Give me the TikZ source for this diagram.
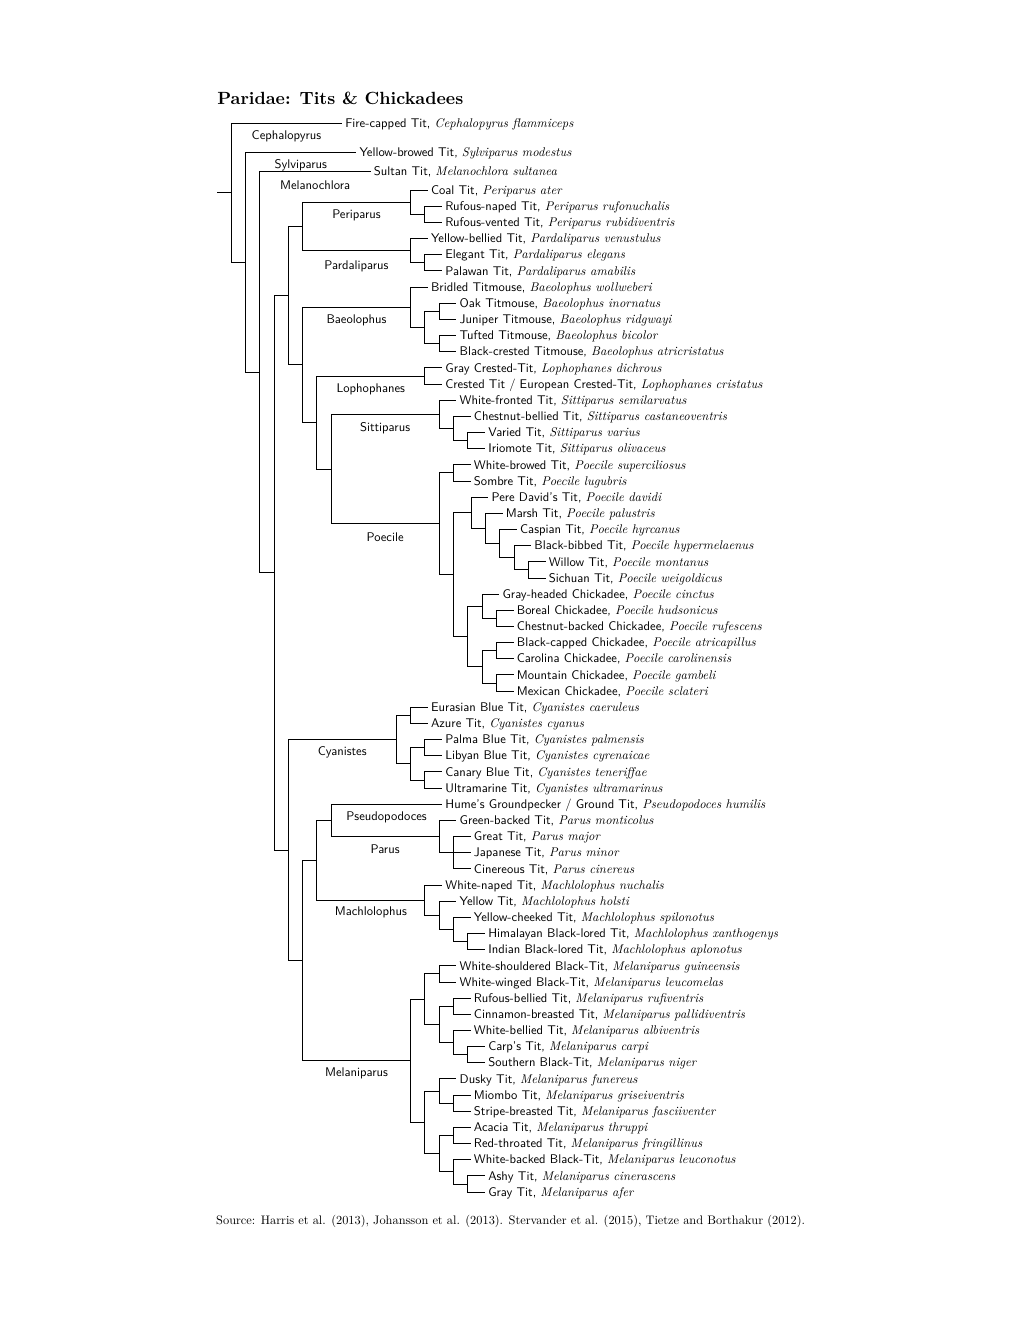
\documentclass[tikz,border=0pt]{standalone}
\usepackage{tikz}
\newcommand{\species}[1]{{\rmfamily\itshape #1}}

\begin{document}
\begin{tikzpicture}[x=0.6pt, y=-0.6pt,
  every node/.style={font=\sffamily},
  leaf/.style={scale=0.755, anchor=west, inner sep=2.4pt, text height=1.6ex, text depth=0pt},
  genus/.style={scale=0.755, inner sep=0pt},
  branch/.style={line width=0.4pt}]
  \useasboundingbox (0,0) rectangle (1020,1320);
  \node[anchor=base west, inner sep=0pt, font=\fontsize{10.6}{13}\selectfont\rmfamily\bfseries] (title) at (217,104) {Paridae: Tits \& Chickadees};
  % backbone
  \coordinate (root) at (217,192.47);
  \coordinate (A) at (231,192.47);   \coordinate (B) at (245.3,261.94);
  \coordinate (C) at (259.6,371.87); \coordinate (D) at (273.9,572.74);
  \coordinate (E) at (288.2,295.57); \coordinate (F) at (288.2,849.91);
  \coordinate (P1) at (302.5,226.36); \coordinate (P2) at (302.5,364.78);
  \coordinate (Q) at (316.8,422.40);  \coordinate (Q2) at (331.1,468.95);
  \coordinate (Gn) at (302.5,960.38); \coordinate (H) at (316.8,860.14);
  \coordinate (I) at (331.1,820.24);
  % genus nodes
  \coordinate (Pe) at (410.5,202.12); \coordinate (Pe1) at (424.8,214.24);
  \coordinate (Pa) at (410.5,250.60); \coordinate (Pa1) at (424.8,262.72);
  \coordinate (Ba) at (410.5,307.16); \coordinate (Ba1) at (424.8,327.36);
  \coordinate (Ba1a) at (439.1,311.20); \coordinate (Ba1b) at (439.1,343.52);
  \coordinate (Lo) at (424.8,375.84);
  \coordinate (Si) at (439.1,414.22); \coordinate (Si1) at (453.4,428.36); \coordinate (Si2) at (467.7,440.48);
  \coordinate (Po) at (439.1,523.68); \coordinate (Po1) at (453.4,472.80); \coordinate (Po2) at (453.4,574.56);
  \coordinate (Po2a) at (471.0,512.70); \coordinate (Po2a1) at (485.3,528.35);
  \coordinate (Po2a2) at (499.6,543.50); \coordinate (Po2a3) at (513.9,557.64);
  \coordinate (Po2a4) at (528.2,569.76);
  \coordinate (Po2b) at (467.7,636.42); \coordinate (Po2b1) at (482.0,606.12); \coordinate (Po2b1a) at (496.3,618.24);
  \coordinate (Po2b2) at (482.0,666.72); \coordinate (Po2b2a) at (496.3,650.56); \coordinate (Po2b2b) at (496.3,682.88);
  \coordinate (Cy) at (396.2,739.44); \coordinate (Cy1) at (410.5,715.20); \coordinate (Cy2) at (410.5,763.68);
  \coordinate (Cy2a) at (424.8,747.52); \coordinate (Cy2b) at (424.8,779.84);
  \coordinate (Parus) at (439.1,836.40); \coordinate (Parus1) at (453.4,852.56);
  \coordinate (Ma) at (424.8,900.03); \coordinate (Ma1) at (439.1,915.18);
  \coordinate (Ma2) at (453.4,929.32); \coordinate (Ma3) at (467.7,941.44);
  \coordinate (Me) at (410.5,1060.62);
  \coordinate (M1) at (424.8,999.01); \coordinate (M1a) at (439.1,973.76); \coordinate (M1b) at (439.1,1024.26);
  \coordinate (M1b1) at (453.4,1006.08); \coordinate (M1b2) at (453.4,1042.44); \coordinate (M1b2a) at (467.7,1054.56);
  \coordinate (M2) at (424.8,1122.23); \coordinate (M2a) at (439.1,1090.92); \coordinate (M2a1) at (453.4,1103.04);
  \coordinate (M2b) at (439.1,1153.54); \coordinate (M2b1) at (453.4,1135.36); \coordinate (M2b2) at (453.4,1171.72);
  \coordinate (M2b2a) at (467.7,1183.84);
  % leaves
  \node[leaf] (fire) at (342.0,123) {Fire-capped Tit, \species{Cephalopyrus flammiceps}};
  \node[leaf] (ybrow) at (356.3,152) {Yellow-browed Tit, \species{Sylviparus modestus}};
  \node[leaf] (sultan) at (370.6,171) {Sultan Tit, \species{Melanochlora sultanea}};
  \node[leaf] (coal) at (427.8,190.00) {Coal Tit, \species{Periparus ater}};
  \node[leaf] (rnaped) at (442.1,206.16) {Rufous-naped Tit, \species{Periparus rufonuchalis}};
  \node[leaf] (rvented) at (442.1,222.32) {Rufous-vented Tit, \species{Periparus rubidiventris}};
  \node[leaf] (ybellied) at (427.8,238.48) {Yellow-bellied Tit, \species{Pardaliparus venustulus}};
  \node[leaf] (elegant) at (442.1,254.64) {Elegant Tit, \species{Pardaliparus elegans}};
  \node[leaf] (palawan) at (442.1,270.80) {Palawan Tit, \species{Pardaliparus amabilis}};
  \node[leaf] (bridled) at (427.8,286.96) {Bridled Titmouse, \species{Baeolophus wollweberi}};
  \node[leaf] (oak) at (456.4,303.12) {Oak Titmouse, \species{Baeolophus inornatus}};
  \node[leaf] (juniper) at (456.4,319.28) {Juniper Titmouse, \species{Baeolophus ridgwayi}};
  \node[leaf] (tufted) at (456.4,335.44) {Tufted Titmouse, \species{Baeolophus bicolor}};
  \node[leaf] (bcrested) at (456.4,351.60) {Black-crested Titmouse, \species{Baeolophus atricristatus}};
  \node[leaf] (gcrested) at (442.1,367.76) {Gray Crested-Tit, \species{Lophophanes dichrous}};
  \node[leaf] (crested) at (442.1,383.92) {Crested Tit / European Crested-Tit, \species{Lophophanes cristatus}};
  \node[leaf] (wfronted) at (456.4,400.08) {White-fronted Tit, \species{Sittiparus semilarvatus}};
  \node[leaf] (cbellied) at (470.7,416.24) {Chestnut-bellied Tit, \species{Sittiparus castaneoventris}};
  \node[leaf] (varied) at (485.0,432.40) {Varied Tit, \species{Sittiparus varius}};
  \node[leaf] (iriomote) at (485.0,448.56) {Iriomote Tit, \species{Sittiparus olivaceus}};
  \node[leaf] (wbrowed) at (470.7,464.72) {White-browed Tit, \species{Poecile superciliosus}};
  \node[leaf] (sombre) at (470.7,480.88) {Sombre Tit, \species{Poecile lugubris}};
  \node[leaf] (pdavid) at (488.3,497.04) {Pere David's Tit, \species{Poecile davidi}};
  \node[leaf] (marsh) at (502.6,513.20) {Marsh Tit, \species{Poecile palustris}};
  \node[leaf] (caspian) at (516.9,529.36) {Caspian Tit, \species{Poecile hyrcanus}};
  \node[leaf] (bbibbed) at (531.2,545.52) {Black-bibbed Tit, \species{Poecile hypermelaenus}};
  \node[leaf] (willow) at (545.5,561.68) {Willow Tit, \species{Poecile montanus}};
  \node[leaf] (sichuan) at (545.5,577.84) {Sichuan Tit, \species{Poecile weigoldicus}};
  \node[leaf] (gheaded) at (499.3,594.00) {Gray-headed Chickadee, \species{Poecile cinctus}};
  \node[leaf] (boreal) at (513.6,610.16) {Boreal Chickadee, \species{Poecile hudsonicus}};
  \node[leaf] (cbacked) at (513.6,626.32) {Chestnut-backed Chickadee, \species{Poecile rufescens}};
  \node[leaf] (bcapped) at (513.6,642.48) {Black-capped Chickadee, \species{Poecile atricapillus}};
  \node[leaf] (carolina) at (513.6,658.64) {Carolina Chickadee, \species{Poecile carolinensis}};
  \node[leaf] (mountain) at (513.6,674.80) {Mountain Chickadee, \species{Poecile gambeli}};
  \node[leaf] (mexican) at (513.6,690.96) {Mexican Chickadee, \species{Poecile sclateri}};
  \node[leaf] (eurasian) at (427.8,707.12) {Eurasian Blue Tit, \species{Cyanistes caeruleus}};
  \node[leaf] (azure) at (427.8,723.28) {Azure Tit, \species{Cyanistes cyanus}};
  \node[leaf] (palma) at (442.1,739.44) {Palma Blue Tit, \species{Cyanistes palmensis}};
  \node[leaf] (libyan) at (442.1,755.60) {Libyan Blue Tit, \species{Cyanistes cyrenaicae}};
  \node[leaf] (canary) at (442.1,771.76) {Canary Blue Tit, \species{Cyanistes teneriffae}};
  \node[leaf] (ultramarine) at (442.1,787.92) {Ultramarine Tit, \species{Cyanistes ultramarinus}};
  \node[leaf] (humes) at (442.1,804.08) {Hume's Groundpecker / Ground Tit, \species{Pseudopodoces humilis}};
  \node[leaf] (gbacked) at (456.4,820.24) {Green-backed Tit, \species{Parus monticolus}};
  \node[leaf] (great) at (470.7,836.40) {Great Tit, \species{Parus major}};
  \node[leaf] (japanese) at (470.7,852.56) {Japanese Tit, \species{Parus minor}};
  \node[leaf] (cinereous) at (470.7,868.72) {Cinereous Tit, \species{Parus cinereus}};
  \node[leaf] (wnaped) at (442.1,884.88) {White-naped Tit, \species{Machlolophus nuchalis}};
  \node[leaf] (yellow) at (456.4,901.04) {Yellow Tit, \species{Machlolophus holsti}};
  \node[leaf] (ycheeked) at (470.7,917.20) {Yellow-cheeked Tit, \species{Machlolophus spilonotus}};
  \node[leaf] (himalayan) at (485.0,933.36) {Himalayan Black-lored Tit, \species{Machlolophus xanthogenys}};
  \node[leaf] (indian) at (485.0,949.52) {Indian Black-lored Tit, \species{Machlolophus aplonotus}};
  \node[leaf] (wshouldered) at (456.4,965.68) {White-shouldered Black-Tit, \species{Melaniparus guineensis}};
  \node[leaf] (wwinged) at (456.4,981.84) {White-winged Black-Tit, \species{Melaniparus leucomelas}};
  \node[leaf] (rbellied) at (470.7,998.00) {Rufous-bellied Tit, \species{Melaniparus rufiventris}};
  \node[leaf] (cinnamon) at (470.7,1014.16) {Cinnamon-breasted Tit, \species{Melaniparus pallidiventris}};
  \node[leaf] (wbellied) at (470.7,1030.32) {White-bellied Tit, \species{Melaniparus albiventris}};
  \node[leaf] (carps) at (485.0,1046.48) {Carp's Tit, \species{Melaniparus carpi}};
  \node[leaf] (southern) at (485.0,1062.64) {Southern Black-Tit, \species{Melaniparus niger}};
  \node[leaf] (dusky) at (456.4,1078.80) {Dusky Tit, \species{Melaniparus funereus}};
  \node[leaf] (miombo) at (470.7,1094.96) {Miombo Tit, \species{Melaniparus griseiventris}};
  \node[leaf] (stripe) at (470.7,1111.12) {Stripe-breasted Tit, \species{Melaniparus fasciiventer}};
  \node[leaf] (acacia) at (470.7,1127.28) {Acacia Tit, \species{Melaniparus thruppi}};
  \node[leaf] (rthroated) at (470.7,1143.44) {Red-throated Tit, \species{Melaniparus fringillinus}};
  \node[leaf] (wbacked) at (470.7,1159.60) {White-backed Black-Tit, \species{Melaniparus leuconotus}};
  \node[leaf] (ashy) at (485.0,1175.76) {Ashy Tit, \species{Melaniparus cinerascens}};
  \node[leaf] (gray) at (485.0,1191.92) {Gray Tit, \species{Melaniparus afer}};
  % genus labels
  \node[genus] (lCeph) at (286.5,136) {Cephalopyrus};
  \node[genus] (lSylv) at (300.8,165) {Sylviparus};
  \node[genus] (lMela) at (315.1,185) {Melanochlora};
  \node[genus] (lPeri) at (356.5,215.5) {Periparus};
  \node[genus] (lPard) at (356.5,266) {Pardaliparus};
  \node[genus] (lBaeo) at (356.5,320) {Baeolophus};
  \node[genus] (lLoph) at (370.8,389) {Lophophanes};
  \node[genus] (lSitt) at (385.1,428.5) {Sittiparus};
  \node[genus] (lPoec) at (385.1,537) {Poecile};
  \node[genus] (lCyan) at (342.2,752) {Cyanistes};
  \node[genus] (lPseu) at (386.6,817) {Pseudopodoces};
  \node[genus] (lParu) at (385.1,849) {Parus};
  \node[genus] (lMach) at (370.8,912.5) {Machlolophus};
  \node[genus] (lMeln) at (356.5,1073) {Melaniparus};
  % branches
  \draw[branch] (root) -- (A);
  \draw[branch] (A) |- (fire.west) (A) |- (B);
  \draw[branch] (B) |- (ybrow.west) (B) |- (C);
  \draw[branch] (C) |- (sultan.west) (C) |- (D);
  \draw[branch] (D) |- (E) (D) |- (F);
  \draw[branch] (E) |- (P1) (E) |- (P2);
  \draw[branch] (P1) |- (Pe) (P1) |- (Pa);
  \draw[branch] (Pe) |- (coal.west) (Pe) |- (Pe1);
  \draw[branch] (Pe1) |- (rnaped.west) (Pe1) |- (rvented.west);
  \draw[branch] (Pa) |- (ybellied.west) (Pa) |- (Pa1);
  \draw[branch] (Pa1) |- (elegant.west) (Pa1) |- (palawan.west);
  \draw[branch] (P2) |- (Ba) (P2) |- (Q);
  \draw[branch] (Ba) |- (bridled.west) (Ba) |- (Ba1);
  \draw[branch] (Ba1) |- (Ba1a) (Ba1) |- (Ba1b);
  \draw[branch] (Ba1a) |- (oak.west) (Ba1a) |- (juniper.west);
  \draw[branch] (Ba1b) |- (tufted.west) (Ba1b) |- (bcrested.west);
  \draw[branch] (Q) |- (Lo) (Q) |- (Q2);
  \draw[branch] (Lo) |- (gcrested.west) (Lo) |- (crested.west);
  \draw[branch] (Q2) |- (Si) (Q2) |- (Po);
  \draw[branch] (Si) |- (wfronted.west) (Si) |- (Si1);
  \draw[branch] (Si1) |- (cbellied.west) (Si1) |- (Si2);
  \draw[branch] (Si2) |- (varied.west) (Si2) |- (iriomote.west);
  \draw[branch] (Po) |- (Po1) (Po) |- (Po2);
  \draw[branch] (Po1) |- (wbrowed.west) (Po1) |- (sombre.west);
  \draw[branch] (Po2) |- (Po2a) (Po2) |- (Po2b);
  \draw[branch] (Po2a) |- (pdavid.west) (Po2a) |- (Po2a1);
  \draw[branch] (Po2a1) |- (marsh.west) (Po2a1) |- (Po2a2);
  \draw[branch] (Po2a2) |- (caspian.west) (Po2a2) |- (Po2a3);
  \draw[branch] (Po2a3) |- (bbibbed.west) (Po2a3) |- (Po2a4);
  \draw[branch] (Po2a4) |- (willow.west) (Po2a4) |- (sichuan.west);
  \draw[branch] (Po2b) |- (Po2b1) (Po2b) |- (Po2b2);
  \draw[branch] (Po2b1) |- (gheaded.west) (Po2b1) |- (Po2b1a);
  \draw[branch] (Po2b1a) |- (boreal.west) (Po2b1a) |- (cbacked.west);
  \draw[branch] (Po2b2) |- (Po2b2a) (Po2b2) |- (Po2b2b);
  \draw[branch] (Po2b2a) |- (bcapped.west) (Po2b2a) |- (carolina.west);
  \draw[branch] (Po2b2b) |- (mountain.west) (Po2b2b) |- (mexican.west);
  \draw[branch] (F) |- (Cy) (F) |- (Gn);
  \draw[branch] (Cy) |- (Cy1) (Cy) |- (Cy2);
  \draw[branch] (Cy1) |- (eurasian.west) (Cy1) |- (azure.west);
  \draw[branch] (Cy2) |- (Cy2a) (Cy2) |- (Cy2b);
  \draw[branch] (Cy2a) |- (palma.west) (Cy2a) |- (libyan.west);
  \draw[branch] (Cy2b) |- (canary.west) (Cy2b) |- (ultramarine.west);
  \draw[branch] (Gn) |- (H) (Gn) |- (Me);
  \draw[branch] (H) |- (I) (H) |- (Ma);
  \draw[branch] (I) |- (humes.west) (I) |- (Parus);
  \draw[branch] (Parus) |- (gbacked.west) (Parus) |- (Parus1);
  \draw[branch] (Parus1) |- (great.west) (Parus1) |- (japanese.west) (Parus1) |- (cinereous.west);
  \draw[branch] (Ma) |- (wnaped.west) (Ma) |- (Ma1);
  \draw[branch] (Ma1) |- (yellow.west) (Ma1) |- (Ma2);
  \draw[branch] (Ma2) |- (ycheeked.west) (Ma2) |- (Ma3);
  \draw[branch] (Ma3) |- (himalayan.west) (Ma3) |- (indian.west);
  \draw[branch] (Me) |- (M1) (Me) |- (M2);
  \draw[branch] (M1) |- (M1a) (M1) |- (M1b);
  \draw[branch] (M1a) |- (wshouldered.west) (M1a) |- (wwinged.west);
  \draw[branch] (M1b) |- (M1b1) (M1b) |- (M1b2);
  \draw[branch] (M1b1) |- (rbellied.west) (M1b1) |- (cinnamon.west);
  \draw[branch] (M1b2) |- (wbellied.west) (M1b2) |- (M1b2a);
  \draw[branch] (M1b2a) |- (carps.west) (M1b2a) |- (southern.west);
  \draw[branch] (M2) |- (M2a) (M2) |- (M2b);
  \draw[branch] (M2a) |- (dusky.west) (M2a) |- (M2a1);
  \draw[branch] (M2a1) |- (miombo.west) (M2a1) |- (stripe.west);
  \draw[branch] (M2b) |- (M2b1) (M2b) |- (M2b2);
  \draw[branch] (M2b1) |- (acacia.west) (M2b1) |- (rthroated.west);
  \draw[branch] (M2b2) |- (wbacked.west) (M2b2) |- (M2b2a);
  \draw[branch] (M2b2a) |- (ashy.west) (M2b2a) |- (gray.west);
  \node[anchor=base west, inner sep=0pt, scale=0.741, font=\rmfamily] (source) at (216,1224) {Source: Harris et al. (2013), Johansson et al. (2013). Stervander et al. (2015), Tietze and Borthakur (2012).};
\end{tikzpicture}
\end{document}
